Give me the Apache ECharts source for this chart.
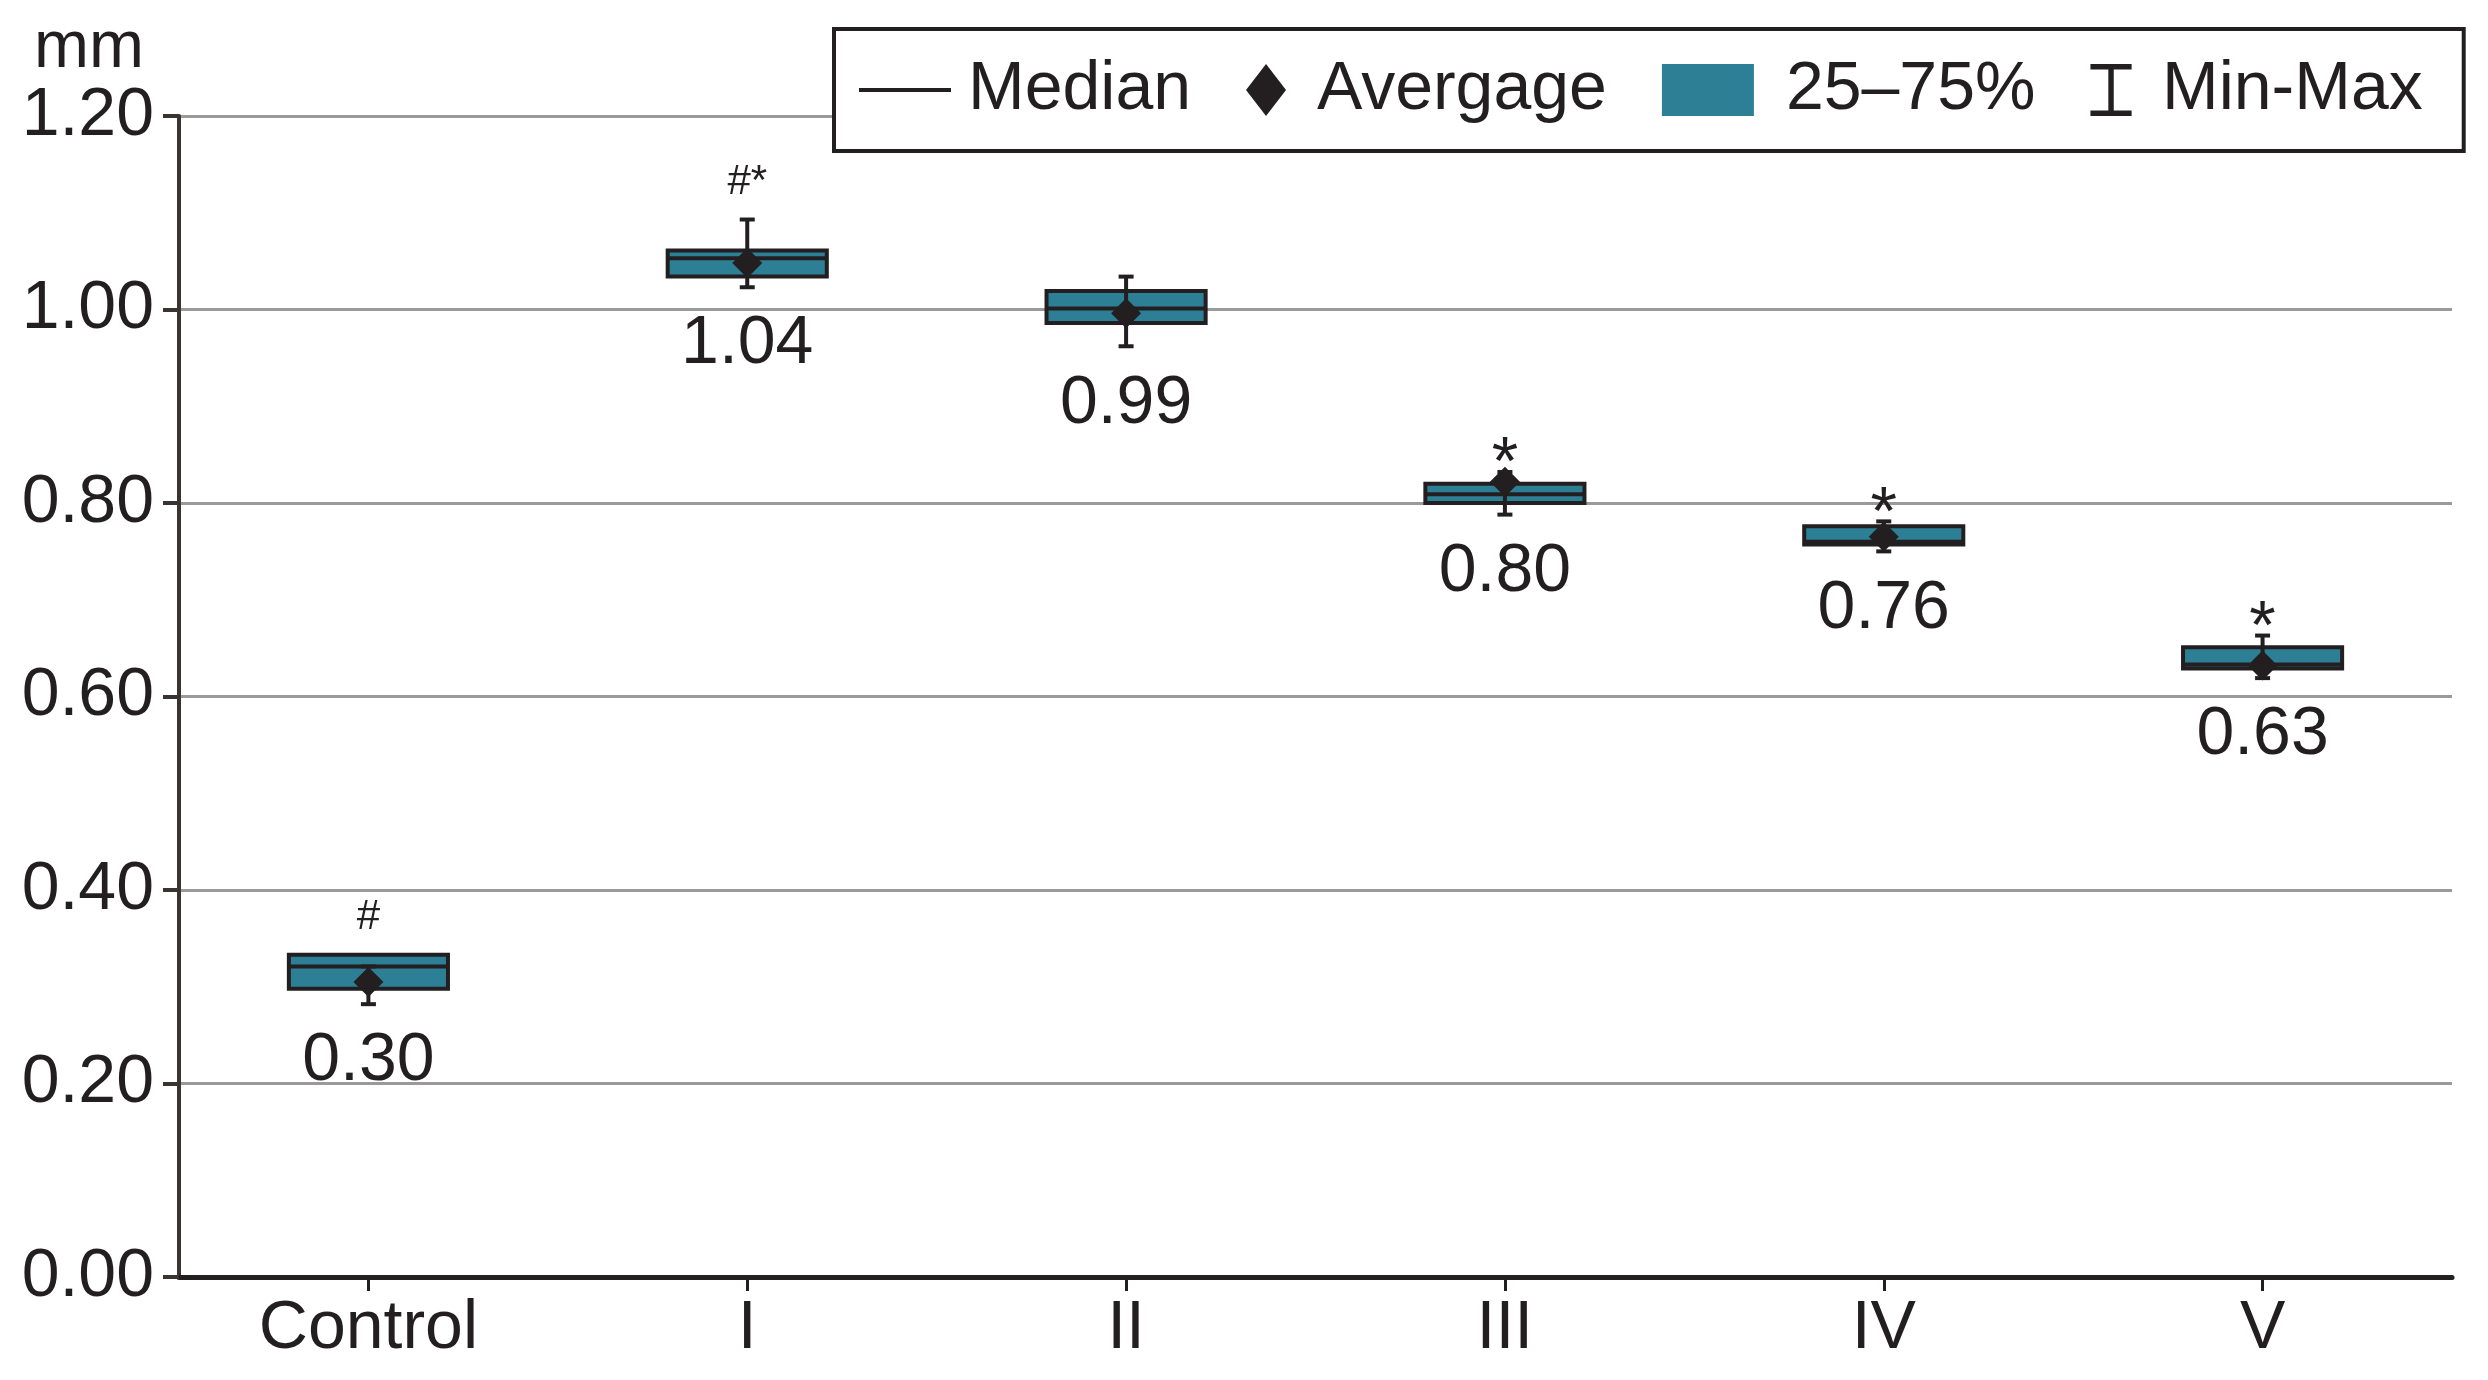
<!DOCTYPE html>
<html>
<head>
<meta charset="utf-8">
<script src="https://cdn.jsdelivr.net/npm/echarts@6/dist/echarts.min.js"></script>
<style>
  html, body { margin: 0; padding: 0; background: #fff; }
  #chart { width: 2488px; height: 1380px; }
</style>
</head>
<body>
<div id="chart"></div>
<script>
// ---- data ----
const categories = ['Control', 'I', 'II', 'III', 'IV', 'V'];
const minValues     = [0.282, 1.023, 0.962, 0.788, 0.750, 0.619];
const q1Values      = [0.298, 1.034, 0.986, 0.800, 0.757, 0.629];
const medianValues  = [0.321, 1.053, 1.001, 0.809, 0.760, 0.633];
const q3Values      = [0.333, 1.061, 1.019, 0.820, 0.776, 0.651];
const maxValues     = [0.321, 1.093, 1.034, 0.832, 0.781, 0.663];
const averageValues = [0.305, 1.048, 0.996, 0.822, 0.765, 0.632];
const valueLabels   = ['0.30', '1.04', '0.99', '0.80', '0.76', '0.63'];
const markLabels    = ['#', '#*', '', '*', '*', '*'];
const yMin = 0, yMax = 1.2, yStep = 0.2;

// ---- styles ----
const DARK = '#231f20';
const TEAL = '#2c7f94';
const FONT = '"Liberation Sans", Arial, Helvetica, sans-serif';
const BOX_FRAC = 0.42;

const chart = echarts.init(document.getElementById('chart'));

const boxData = categories.map((c, i) => [i, q1Values[i], q3Values[i]]);
const medianData = categories.map((c, i) => [i, medianValues[i]]);
const whiskerData = categories.map((c, i) => [i, minValues[i], maxValues[i]]);
const avgData = categories.map((c, i) => [i, averageValues[i]]);
const valueLabelData = categories.map((c, i) => [i, minValues[i]]);
const topOf = i => Math.max(q3Values[i], maxValues[i]);
const hashData = [], starData = [];
markLabels.forEach((m, i) => {
  if (!m) return;
  if (m.indexOf('#') >= 0) hashData.push([i, topOf(i)]);
  else starData.push([i, topOf(i)]);
});

const hiddenSymbol = { color: 'rgba(0,0,0,0)', opacity: 1 };

const option = {
  backgroundColor: '#fff',
  animation: false,
  textStyle: { fontFamily: FONT, color: DARK },
  grid: { left: 179, right: 36, top: 116, bottom: 103, containLabel: false },
  legend: {
    left: 834, top: 29,
    orient: 'horizontal',
    padding: [21, 41, 21, 25],
    itemGap: 55,
    itemWidth: 92,
    itemHeight: 52,
    borderColor: DARK,
    borderWidth: 4,
    backgroundColor: '#fff',
    selectedMode: false,
    textStyle: { fontSize: 68, color: DARK, fontFamily: FONT, lineHeight: 80 },
    data: [
      { name: 'Median', icon: 'path://M0,0H88V4H0Z', itemStyle: { color: DARK, borderWidth: 0, opacity: 1 },
        textStyle: { padding: [0, 0, 0, 12] } },
      { name: 'Avergage', icon: 'path://M20,0L40,26L20,52L0,26Z', itemStyle: { color: DARK, borderWidth: 0, opacity: 1 } },
      { name: '25–75%', icon: 'rect', itemStyle: { color: TEAL, borderWidth: 0, opacity: 1 },
        textStyle: { padding: [0, 0, 0, 27] } },
      { name: 'Min-Max', icon: 'path://M0,0H38V5H21.5V43H38V48H0V43H16.5V5H0Z', itemStyle: { color: DARK, borderWidth: 0, opacity: 1 } }
    ]
  },
  xAxis: {
    type: 'category',
    data: categories,
    boundaryGap: true,
    axisLine: { show: true, lineStyle: { color: DARK, width: 5 } },
    axisTick: { show: true, alignWithLabel: true, inside: false, length: 14, lineStyle: { color: DARK, width: 3 } },
    axisLabel: { fontSize: 68, lineHeight: 68, color: DARK, fontFamily: FONT, margin: 18 },
    splitLine: { show: false }
  },
  yAxis: {
    type: 'value',
    min: yMin, max: yMax, interval: yStep,
    name: 'mm',
    nameLocation: 'end',
    nameGap: 33,
    nameTextStyle: { fontSize: 66, lineHeight: 66, color: DARK, fontFamily: FONT, align: 'right', padding: [0, 35, 0, 0] },
    axisLine: { show: true, lineStyle: { color: '#3a3334', width: 4 } },
    axisTick: { show: true, length: 16, lineStyle: { color: '#3a3334', width: 4 } },
    axisLabel: { fontSize: 68, lineHeight: 68, color: DARK, fontFamily: FONT, margin: 25,
      formatter: v => v.toFixed(2) },
    splitLine: { show: true, lineStyle: { color: '#9a9a9a', width: 3 } }
  },
  series: [
    {
      name: '25–75%',
      type: 'custom',
      z: 2,
      itemStyle: { color: TEAL },
      encode: { x: 0, y: [1, 2] },
      data: boxData,
      renderItem: function (params, api) {
        const i = api.value(0);
        const lo = api.coord([i, api.value(1)]);
        const hi = api.coord([i, api.value(2)]);
        const w = api.size([1, 0])[0] * BOX_FRAC;
        return {
          type: 'rect',
          shape: { x: lo[0] - w / 2, y: hi[1], width: w, height: lo[1] - hi[1] },
          style: { fill: TEAL, stroke: DARK, lineWidth: 4 }
        };
      }
    },
    {
      name: 'Median',
      type: 'custom',
      z: 3,
      itemStyle: { color: DARK },
      encode: { x: 0, y: 1 },
      data: medianData,
      renderItem: function (params, api) {
        const i = api.value(0);
        const p = api.coord([i, api.value(1)]);
        const w = api.size([1, 0])[0] * BOX_FRAC;
        return {
          type: 'line',
          shape: { x1: p[0] - w / 2, y1: p[1], x2: p[0] + w / 2, y2: p[1] },
          style: { stroke: DARK, lineWidth: 4 }
        };
      }
    },
    {
      name: 'Min-Max',
      type: 'custom',
      z: 4,
      itemStyle: { color: DARK },
      encode: { x: 0, y: [1, 2] },
      data: whiskerData,
      renderItem: function (params, api) {
        const i = api.value(0);
        const lo = api.coord([i, api.value(1)]);
        const hi = api.coord([i, api.value(2)]);
        const cw = 15;
        const st = { stroke: DARK, lineWidth: 4 };
        return {
          type: 'group',
          children: [
            { type: 'line', shape: { x1: lo[0], y1: lo[1], x2: hi[0], y2: hi[1] }, style: st },
            { type: 'line', shape: { x1: lo[0] - cw / 2, y1: lo[1], x2: lo[0] + cw / 2, y2: lo[1] }, style: st },
            { type: 'line', shape: { x1: hi[0] - cw / 2, y1: hi[1], x2: hi[0] + cw / 2, y2: hi[1] }, style: st }
          ]
        };
      }
    },
    {
      name: 'Avergage',
      type: 'scatter',
      z: 5,
      symbol: 'diamond',
      symbolSize: [30, 30],
      itemStyle: { color: DARK, opacity: 1 },
      data: avgData
    },
    {
      name: 'valueLabels',
      type: 'scatter',
      z: 6,
      symbolSize: 1,
      itemStyle: hiddenSymbol,
      silent: true,
      data: valueLabelData,
      label: {
        show: true, position: 'bottom', distance: 23,
        fontSize: 68, lineHeight: 68, color: DARK, fontFamily: FONT, opacity: 1,
        formatter: p => valueLabels[p.value[0]]
      }
    },
    {
      name: 'hashMarks',
      type: 'scatter',
      z: 6,
      symbolSize: 1,
      itemStyle: hiddenSymbol,
      silent: true,
      data: hashData,
      label: {
        show: true, position: 'top', distance: 16,
        fontSize: 42, lineHeight: 42, color: DARK, fontFamily: FONT, opacity: 1,
        formatter: p => markLabels[p.value[0]]
      }
    },
    {
      name: 'starMarks',
      type: 'scatter',
      z: 6,
      symbolSize: 1,
      itemStyle: hiddenSymbol,
      silent: true,
      data: starData,
      label: {
        show: true, position: 'top', distance: 0, offset: [0, 28],
        fontSize: 68, lineHeight: 68, color: DARK, fontFamily: FONT, opacity: 1,
        formatter: p => markLabels[p.value[0]]
      }
    }
  ]
};

chart.setOption(option);
</script>
</body>
</html>
